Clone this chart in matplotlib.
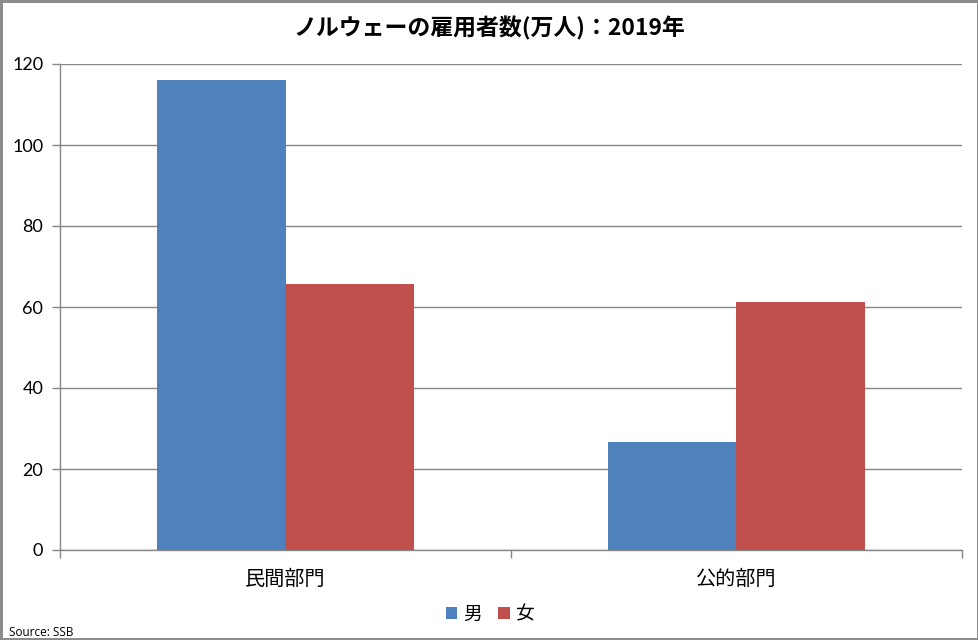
import matplotlib
matplotlib.use("Agg")
import matplotlib.pyplot as plt
import numpy as np
from matplotlib.patches import Patch

# data (万人)
categories = ["民間部門", "公的部門"]
series_names = ["男", "女"]
male_values = [116.0, 26.7]
female_values = [65.7, 61.3]
y_ticks = [0, 20, 40, 60, 80, 100, 120]

title_text = "ノルウェーの雇用者数(万人)：2019年"
source_text = "Source: SSB"

blue = "#4F81BD"
red = "#C0504D"
grid_gray = "#868686"

plt.rcParams['font.family'] = ['Lato', 'Noto Sans CJK JP', 'DejaVu Sans']

fig = plt.figure(figsize=(9.79, 6.40), dpi=100)
fig.patch.set_facecolor("white")
fig.patch.set_edgecolor("#8c8c8c")
fig.patch.set_linewidth(2.5)

# plot area placed like the Excel original
ax = fig.add_axes([60 / 979, 90 / 640, 902 / 979, 486 / 640])

# excel gap width 150% -> bar width 1 / 3.5 of a category
bar_w = 1 / 3.5
x_pos = np.arange(len(categories)) + 0.5
ax.bar(x_pos - bar_w / 2, male_values, width=bar_w, color=blue, label=series_names[0], zorder=3)
ax.bar(x_pos + bar_w / 2, female_values, width=bar_w, color=red, label=series_names[1], zorder=3)

ax.set_xlim(0, len(categories))
ax.set_ylim(0, 120)
ax.set_yticks(y_ticks)
ax.yaxis.grid(True, color=grid_gray, linewidth=1.0, zorder=0)
ax.set_axisbelow(True)

# category labels centred, ticks at category boundaries
ax.set_xticks(np.arange(len(categories) + 1))
ax.set_xticklabels([])
ax.set_xticks(x_pos, minor=True)
ax.set_xticklabels(categories, minor=True, family=['Noto Sans CJK JP'], fontsize=14.5)
ax.tick_params(axis="x", which="minor", length=0, pad=14)
ax.tick_params(axis="x", which="major", length=6, color=grid_gray, width=1)
ax.tick_params(axis="y", length=6, color=grid_gray, width=1, labelsize=13, pad=6)

for side in ["top", "right"]:
    ax.spines[side].set_visible(False)
for side in ["left", "bottom"]:
    ax.spines[side].set_color(grid_gray)
    ax.spines[side].set_linewidth(1.0)

fig.text(0.5, 1 - 28 / 640, title_text, ha="center", va="center",
         fontsize=16.5, fontweight="bold", family=['Noto Sans CJK JP'])

handles = [Patch(facecolor=blue, label=series_names[0]),
           Patch(facecolor=red, label=series_names[1])]
leg = fig.legend(handles=handles, loc="center", bbox_to_anchor=(490 / 979, 1 - 614 / 640),
                 ncol=2, frameon=False, handlelength=0.6, handleheight=0.6,
                 handletextpad=0.3, columnspacing=0.9,
                 prop={'family': ['Noto Sans CJK JP'], 'size': 13.5})

fig.text(9 / 979, 1 - 632 / 640, source_text, ha="left", va="center", fontsize=8.5,
         family=['Open Sans'])

plt.savefig("out.png", dpi=100)
